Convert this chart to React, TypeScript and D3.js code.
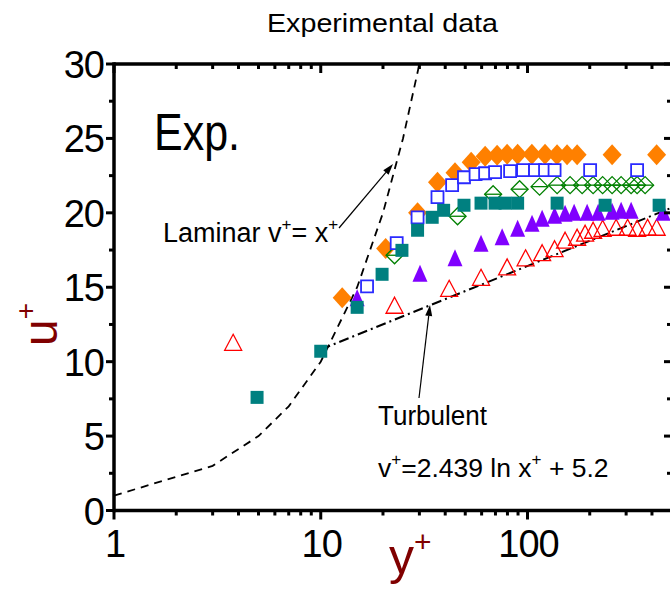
import React from "react";
import * as d3 from "d3";

// ---------- data ----------
const orangeX = [12.7, 20.6, 29.4, 36.7, 44.6, 53.4, 62.4, 71.3, 79.7, 89.6, 105, 121.6, 139, 155.4, 173.8, 256.6, 421.3];
const orangeU = [14.3, 17.6, 20.0, 22.06, 22.7, 23.4, 23.8, 23.87, 23.94, 23.94, 23.94, 23.94, 23.9, 23.9, 23.9, 23.9, 23.9];

const blueX = [16.75, 23.3, 29.4, 36.7, 43.2, 49.3, 56.1, 62.4, 69.7, 82.4, 95.2, 108.8, 121.6, 135.2, 200.9, 339];
const blueU = [15.06, 17.96, 19.7, 21.05, 21.86, 22.39, 22.6, 22.66, 22.73, 22.8, 22.87, 22.87, 22.87, 22.87, 22.87, 22.87];

const greenX = [22.75, 45.9, 68.2, 91.6, 114.4, 139.1, 160.7, 183.8, 207.7, 230.9, 256.6, 283.7, 317.1, 339, 370.6];
const greenU = [17.15, 19.77, 21.25, 21.59, 21.76, 21.86, 21.86, 21.86, 21.86, 21.86, 21.86, 21.86, 21.86, 21.86, 21.86];

const tealX = [4.92, 10, 15, 19.8, 24.7, 29.4, 34.6, 39.3, 49.3, 59.6, 69.7, 77.9, 89.6, 139.1, 237.4, 433.2];
const tealU = [7.6, 10.7, 13.65, 15.87, 17.48, 18.83, 19.7, 20.17, 20.51, 20.65, 20.65, 20.65, 20.65, 20.65, 20.51, 20.51];

const purpleX = [15, 30.2, 44.6, 59.6, 75.4, 89.6, 105.2, 117.7, 135.2, 152, 168.1, 194.3, 219.6, 256.6, 283.7, 317.1, 453];
const purpleU = [14.29, 15.94, 16.98, 17.96, 18.39, 18.96, 19.3, 19.64, 19.84, 19.97, 20.04, 20.04, 20.04, 20.11, 20.17, 20.17, 20.04];

const redX = [3.77, 22.75, 41.8, 59.6, 79.7, 97.9, 117.7, 135.2, 152, 173.8, 190, 207.7, 230.9, 268.3, 305, 339, 381.1, 421.3];
const redU = [11.3, 13.79, 14.93, 15.67, 16.37, 16.98, 17.32, 17.59, 18.16, 18.36, 18.63, 18.83, 18.96, 19.03, 19.03, 18.96, 19.03, 19.03];

const laminarX = [1, 3, 5, 7, 10, 15, 20, 25, 30];
const laminarU = [1, 3, 5, 7, 10, 15, 20, 25, 30];

const turbX = [10, 500];
const turbA = 2.439;
const turbB = 5.2;

const yTicks = [0, 5, 10, 15, 20, 25, 30];
const yMinor = [2.5, 7.5, 12.5, 17.5, 22.5, 27.5];
const xMajor = [1, 10, 100];
const xMinor = [2, 3, 4, 5, 6, 7, 8, 9, 20, 30, 40, 50, 60, 70, 80, 90, 200, 300, 400];

// ---------- layout ----------
const W = 670;
const H = 590;
const x = d3.scaleLog().domain([1, 500]).range([114, 672]);
const y = d3.scaleLinear().domain([0, 30]).range([510.5, 64]);
const FONT = "'Liberation Sans', Arial, sans-serif";
const DARKRED = "#800000";

function zip(xs: number[], us: number[]) {
  return xs.map((v, i) => [v, us[i]] as [number, number]);
}

function diamond(cx: number, cy: number, hw: number, hh: number) {
  return `M${cx},${cy - hh}L${cx + hw},${cy}L${cx},${cy + hh}L${cx - hw},${cy}Z`;
}
function square(cx: number, cy: number, h: number) {
  return `M${cx - h},${cy - h}L${cx + h},${cy - h}L${cx + h},${cy + h}L${cx - h},${cy + h}Z`;
}
function triangle(cx: number, cy: number, hw: number, hh: number) {
  return `M${cx},${cy - hh}L${cx + hw},${cy + hh}L${cx - hw},${cy + hh}Z`;
}

function Arrow({ x1, y1, x2, y2 }: { x1: number; y1: number; x2: number; y2: number }) {
  const ang = Math.atan2(y2 - y1, x2 - x1);
  const len = 11;
  const wid = 3.5;
  const bx = x2 - len * Math.cos(ang);
  const by = y2 - len * Math.sin(ang);
  const px = -Math.sin(ang) * wid;
  const py = Math.cos(ang) * wid;
  return (
    <g>
      <line x1={x1} y1={y1} x2={bx} y2={by} stroke="#000" strokeWidth={1.2} />
      <path d={`M${x2},${y2}L${bx + px},${by + py}L${bx - px},${by - py}Z`} fill="#000" />
    </g>
  );
}

export default function App() {
  const lamLine = d3
    .line<[number, number]>()
    .x((d) => x(d[0]))
    .y((d) => y(d[1]))(zip(laminarX, laminarU));
  const turbLine = d3
    .line<number>()
    .x((d) => x(d))
    .y((d) => y(turbA * Math.log(d) + turbB))(turbX);

  const x0 = x(1);
  const x1 = x(500);
  const y0 = y(0);
  const y1 = y(30);

  return (
    <svg
      width={W}
      height={H}
      viewBox={`0 0 ${W} ${H}`}
      style={{ position: "absolute", left: 0, top: 0, display: "block", background: "#fff" }}
    >
      <rect x={0} y={0} width={W} height={H} fill="#fff" />
      {/* title */}
      <text x={267} y={32} fontFamily={FONT} fontSize={26} textLength={231} lengthAdjust="spacingAndGlyphs">
        Experimental data
      </text>

      {/* theory lines */}
      <path d={lamLine || ""} fill="none" stroke="#000" strokeWidth={1.8} strokeDasharray="8,6" />
      <path d={turbLine || ""} fill="none" stroke="#000" strokeWidth={2} strokeDasharray="10,4,2,4" />

      {/* orange filled diamonds */}
      {zip(orangeX, orangeU).map((d, i) => (
        <path key={"o" + i} d={diamond(x(d[0]), y(d[1]), 9.5, 10.5)} fill="#ff8000" />
      ))}
      {/* green open diamonds with bar */}
      {zip(greenX, greenU).map((d, i) => {
        const cx = x(d[0]);
        const cy = y(d[1]);
        return (
          <g key={"g" + i}>
            <path d={diamond(cx, cy, 8.5, 8.5)} fill="none" stroke="#008000" strokeWidth={1.3} />
            <line x1={cx - 8.5} y1={cy} x2={cx + 8.5} y2={cy} stroke="#008000" strokeWidth={1.3} />
          </g>
        );
      })}
      {/* blue open squares */}
      {zip(blueX, blueU).map((d, i) => (
        <path key={"b" + i} d={square(x(d[0]), y(d[1]), 6)} fill="#fff" stroke="#2a2aff" strokeWidth={1.8} />
      ))}
      {/* red open triangles */}
      {zip(redX, redU).map((d, i) => (
        <path key={"r" + i} d={triangle(x(d[0]), y(d[1]), 8.5, 8)} fill="none" stroke="#ff0000" strokeWidth={1.3} />
      ))}
      {/* purple filled triangles */}
      {zip(purpleX, purpleU).map((d, i) => (
        <path key={"p" + i} d={triangle(x(d[0]), y(d[1]), 7.5, 8.5)} fill="#8000ff" />
      ))}
      {/* teal filled squares */}
      {zip(tealX, tealU).map((d, i) => (
        <path key={"t" + i} d={square(x(d[0]), y(d[1]), 6.5)} fill="#008080" />
      ))}

      {/* annotations */}
      <text x={154} y={150} fontFamily={FONT} fontSize={52} textLength={86} lengthAdjust="spacingAndGlyphs">
        Exp.
      </text>
      <text x={163} y={242} fontFamily={FONT} fontSize={27}>
        Laminar v
        <tspan fontSize={17} dy={-12}>+</tspan>
        <tspan dy={12}>= x</tspan>
        <tspan fontSize={17} dy={-12}>+</tspan>
      </text>
      <Arrow x1={339} y1={228} x2={393} y2={164} />
      <text x={378} y={425} fontFamily={FONT} fontSize={27} textLength={109} lengthAdjust="spacingAndGlyphs">
        Turbulent
      </text>
      <text x={378} y={477} fontFamily={FONT} fontSize={26.5}>
        v
        <tspan fontSize={17} dy={-12}>+</tspan>
        <tspan dy={12}>=2.439 ln x</tspan>
        <tspan fontSize={17} dy={-12}>+</tspan>
        <tspan dy={12}> + 5.2</tspan>
      </text>
      <Arrow x1={419} y1={398} x2={430} y2={305} />

      {/* frame */}
      <g stroke="#000" strokeLinecap="butt">
        <line x1={x0} y1={y0} x2={x1} y2={y0} strokeWidth={3.5} />
        <line x1={x0} y1={y1} x2={x1} y2={y1} strokeWidth={3.5} />
        <line x1={x0} y1={y0 + 1.75} x2={x0} y2={y1 - 1.75} strokeWidth={3.5} />
        <line x1={x1} y1={y0 + 1.75} x2={x1} y2={y1 - 1.75} strokeWidth={3.5} />
        {yTicks.map((t) => (
          <g key={"yt" + t}>
            <line x1={x0 - 8} y1={y(t)} x2={x0} y2={y(t)} strokeWidth={3} />
            <line x1={x1} y1={y(t)} x2={x1 - 8} y2={y(t)} strokeWidth={3} />
          </g>
        ))}
        {yMinor.map((t) => (
          <g key={"ym" + t}>
            <line x1={x0 - 5} y1={y(t)} x2={x0} y2={y(t)} strokeWidth={3} />
            <line x1={x1} y1={y(t)} x2={x1 - 5} y2={y(t)} strokeWidth={3} />
          </g>
        ))}
        {xMajor.map((t) => (
          <g key={"xt" + t}>
            <line x1={x(t)} y1={y0} x2={x(t)} y2={y0 + 9} strokeWidth={3} />
            <line x1={x(t)} y1={y1} x2={x(t)} y2={y1 + 9} strokeWidth={3} />
          </g>
        ))}
        {xMinor.map((t) => (
          <g key={"xm" + t}>
            <line x1={x(t)} y1={y0} x2={x(t)} y2={y0 + 5} strokeWidth={3} />
            <line x1={x(t)} y1={y1} x2={x(t)} y2={y1 + 5} strokeWidth={3} />
          </g>
        ))}
      </g>

      {/* tick labels */}
      {yTicks.map((t) => (
        <text key={"yl" + t} x={104} y={y(t) + 14} fontFamily={FONT} fontSize={38} textAnchor="end" letterSpacing={-1}>
          {t}
        </text>
      ))}
      {xMajor.map((t) => (
        <text key={"xl" + t} x={x(t) + 1} y={557} fontFamily={FONT} fontSize={38} textAnchor="middle" letterSpacing={-1}>
          {t}
        </text>
      ))}

      {/* axis titles */}
      <text x={389} y={574} fontFamily={FONT} fontSize={50} fill={DARKRED}>
        y<tspan fontSize={30} dy={-22}>+</tspan>
      </text>
      <text transform="translate(57,346) rotate(-90)" fontFamily={FONT} fontSize={48} fill={DARKRED}>
        u<tspan fontSize={28} dy={-22}>+</tspan>
      </text>
    </svg>
  );
}
